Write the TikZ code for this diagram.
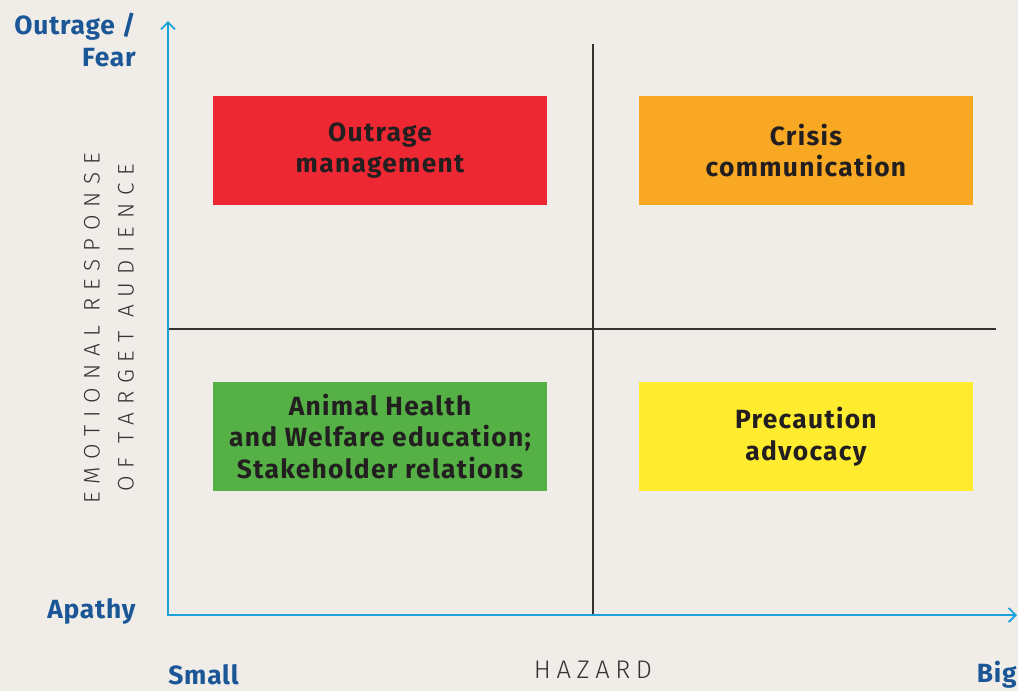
\documentclass[tikz,border=0pt]{standalone}
\usepackage{fontspec}
\setmainfont{Fira Sans}
\newfontfamily\boxfont{Fira Sans}[LetterSpace=5]
\newfontfamily\labfont{Fira Sans}[LetterSpace=3]
\newfontfamily\thinfont{Fira Sans Light}[LetterSpace=35]
\newfontfamily\hazfont{Fira Sans Light}[LetterSpace=22]
\usetikzlibrary{arrows.meta,positioning}

\definecolor{paper}{HTML}{F0EDE9}
\definecolor{axisblue}{HTML}{1DA1DB}
\definecolor{labelblue}{HTML}{1B5796}
\definecolor{inkgray}{HTML}{333333}
\definecolor{boxtext}{HTML}{231F20}
\definecolor{outred}{HTML}{EE2833}
\definecolor{crisisorange}{HTML}{F8A823}
\definecolor{healthgreen}{HTML}{55B146}
\definecolor{precyellow}{HTML}{FFEC2E}

\tikzset{
  quad/.style={minimum width=6.68cm, minimum height=2.18cm, inner sep=0pt,
    outer sep=0pt, align=center, text=boxtext,
    font=\boxfont\bfseries\fontsize{15}{18}\selectfont},
  axislabel/.style={text=labelblue, inner sep=0pt,
    font=\labfont\bfseries\fontsize{15}{18}\selectfont},
  thinlabel/.style={text=inkgray, inner sep=0pt,
    font=\thinfont\fontsize{12.8}{19.3}\selectfont},
  axis/.style={draw=axisblue, line width=1.1pt,
    {Straight Barb[length=4pt,width=8pt]}-{Straight Barb[length=4pt,width=8pt]}},
  divider/.style={draw=inkgray, line width=0.8pt}
}

\begin{document}
\begin{tikzpicture}[x=0.02cm,y=-0.02cm]
  \fill[paper] (0,0) rectangle (1018,691);
  \useasboundingbox (0,0) rectangle (1018,691);

  % quadrant boxes
  \node[quad, fill=outred] (outrage) at (380,150.5) {Outrage\\management};
  \node[quad, fill=crisisorange, right=1.84cm of outrage] (crisis) {Crisis\\communication};
  \node[quad, fill=healthgreen, below=3.54cm of outrage] (health) {Animal Health\\and Welfare education;\\Stakeholder relations};
  \node[quad, fill=precyellow, right=1.84cm of health] (precaution) {Precaution\\advocacy};

  % axes and dividers
  \coordinate (origin) at (168,615);
  \coordinate (ytop) at (168,21);
  \coordinate (xend) at (1017,615);
  \coordinate (vtop) at (593,44);
  \coordinate (vbot) at (593,615);
  \coordinate (hleft) at (168,329);
  \coordinate (hright) at (996,329);
  \draw[divider] (vtop) -- (vbot);
  \draw[divider] (hleft) -- (hright);
  \draw[axis] (ytop) -- (origin) -- (xend);

  % axis labels
  \node[axislabel, anchor=east, align=right] (fear) at (136,40) {Outrage /\\Fear};
  \node[axislabel, anchor=east] (apathy) at (136,611) {Apathy};
  \node[axislabel, anchor=west] (small) at (168,675) {Small};
  \node[axislabel, anchor=east] (big) at (1017,675) {Big};
  \node[text=inkgray, inner sep=0pt, font=\hazfont\fontsize{14.5}{16}\selectfont] (hazard) at (593,670) {HAZARD};
  \node[thinlabel, rotate=90, align=center] (emotion) at (109,328) {EMOTIONAL RESPONSE\\OF TARGET AUDIENCE};
\end{tikzpicture}
\end{document}
